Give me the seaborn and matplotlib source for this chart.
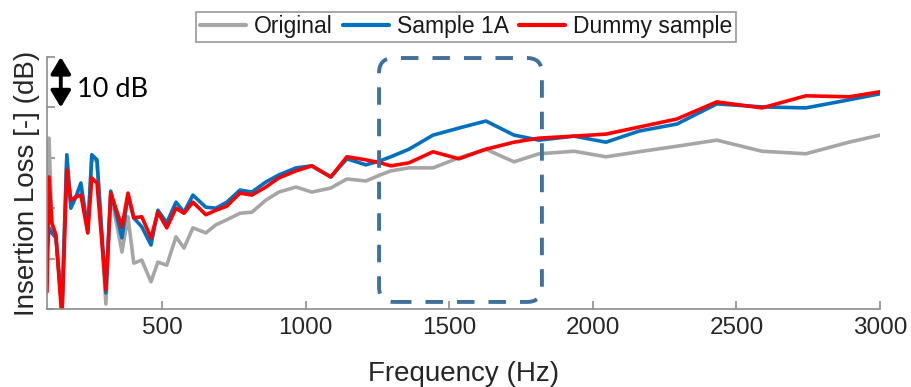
import numpy as np
import pandas as pd
import matplotlib
matplotlib.use("Agg")
import matplotlib.pyplot as plt
import seaborn as sns
from matplotlib.patches import FancyBboxPatch

# ---------------- data ----------------
freq = [100, 107, 117, 131, 152, 169, 183, 200, 218, 242, 256, 274, 305, 322,
        361, 382, 402, 430, 462, 486, 517, 549, 577, 608, 653, 688, 726, 772,
        813, 862, 907, 967, 1022, 1088, 1144, 1210, 1260, 1297, 1360, 1444,
        1534, 1628, 1726, 1813, 1935, 2046, 2161, 2293, 2432, 2589, 2742,
        2892, 3000]

original = [11.7, 33.9, 16.7, 14.7, 0.0, 30.0, 20.6, 22.0, 24.4, 15.1, 30.0,
            29.2, 1.0, 23.0, 11.3, 18.3, 9.1, 9.7, 5.4, 9.3, 8.7, 14.3, 12.1,
            16.1, 15.1, 16.7, 17.7, 19.0, 19.2, 21.6, 23.2, 24.2, 23.2, 24.0,
            25.8, 25.4, 26.6, 27.4, 28.0, 28.0, 30.0, 31.7, 29.2, 30.8, 31.3,
            30.2, 31.2, 32.3, 33.5, 31.3, 30.8, 33.1, 34.5]

sample_1a = [10.7, 16.1, 15.1, 14.1, 0.0, 30.6, 20.0, 22.2, 25.0, 15.7, 30.6,
             29.6, 3.2, 23.4, 14.1, 22.6, 18.1, 16.3, 12.7, 19.6, 17.1, 21.2,
             19.2, 22.6, 20.2, 20.0, 21.2, 23.6, 23.2, 25.2, 26.6, 28.0, 28.4,
             26.2, 29.8, 28.6, 29.4, 30.2, 31.7, 34.5, 35.9, 37.3, 34.5, 33.5,
             34.3, 33.1, 35.3, 36.7, 40.7, 40.1, 39.9, 41.5, 42.7]

dummy_sample = [3.4, 26.2, 17.1, 14.7, -2.0, 27.6, 21.6, 22.2, 22.6, 15.1,
                26.0, 25.0, 3.8, 23.0, 16.3, 23.0, 18.1, 18.3, 14.1, 19.2,
                16.1, 20.0, 19.0, 21.2, 18.7, 19.6, 20.4, 23.0, 22.6, 24.2,
                26.0, 27.4, 28.4, 26.2, 30.2, 29.6, 29.0, 28.4, 29.0, 31.2,
                29.8, 31.7, 33.1, 33.9, 34.3, 34.7, 36.1, 37.7, 41.1, 39.9,
                42.3, 42.1, 43.1]

series_names = ["Original", "Sample 1A", "Dummy sample"]
series_colors = ["#a6a6a6", "#0070c0", "#ff0000"]
xtick_values = [500, 1000, 1500, 2000, 2500, 3000]
ytick_values = [0, 10, 20, 30, 40, 50]

df = pd.DataFrame({"Frequency": freq,
                   "Original": original,
                   "Sample 1A": sample_1a,
                   "Dummy sample": dummy_sample})
long_df = df.melt(id_vars="Frequency", var_name="Series", value_name="IL")

# ---------------- style ----------------
sns.set_style("white")
plt.rcParams["font.family"] = ["Liberation Sans", "DejaVu Sans"]
text_col = "#262626"
axis_col = "#8c8c8c"

W, H = 912, 387
fig = plt.figure(figsize=(W / 100, H / 100), dpi=100)
L, R, T, B = 47, 880, 57, 309
ax = fig.add_axes([L / W, 1 - B / H, (R - L) / W, (B - T) / H])

sns.lineplot(data=long_df, x="Frequency", y="IL", hue="Series",
             hue_order=series_names, palette=series_colors, estimator=None,
             linewidth=2.6, ax=ax)

ax.set_xlim(100, 3000)
ax.set_ylim(0, 50)
ax.set_xticks(xtick_values)
ax.set_xticklabels([str(v) for v in xtick_values])
ax.set_yticks(ytick_values)
ax.set_yticklabels([])

for side in ["top", "right"]:
    ax.spines[side].set_visible(False)
for side in ["left", "bottom"]:
    ax.spines[side].set_color(axis_col)
    ax.spines[side].set_linewidth(1.2)
ax.tick_params(axis="both", direction="in", length=6, width=1.2,
               color=axis_col, labelcolor=text_col, labelsize=17.5, pad=6)
ax.tick_params(axis="y", left=True)
ax.tick_params(axis="x", bottom=True)

ax.set_xlabel("Frequency (Hz)", fontsize=20, color=text_col)
ax.set_ylabel("Insertion Loss [-] (dB)", fontsize=20, color=text_col)
ax.xaxis.set_label_coords(0.5, -(361 - B) / (B - T))
ax.yaxis.set_label_coords(-7 / (R - L), 0.5)

# legend
handles, labels = ax.get_legend_handles_labels()
ax.get_legend().remove()
leg = fig.legend(handles, labels, loc="upper center",
                 bbox_to_anchor=(466 / W, 1 - 12 / H), ncol=3, frameon=True,
                 fancybox=False, edgecolor="#7f7f7f", fontsize=16.5,
                 handlelength=2.0, handletextpad=0.35, columnspacing=0.45,
                 borderpad=0.15, borderaxespad=0)
leg.get_frame().set_linewidth(1.2)
for t in leg.get_texts():
    t.set_color("#1a1a1a")
for h in leg.legend_handles:
    h.set_linewidth(3)

# dashed rounded highlight box
box = FancyBboxPatch((1256, 1.4), 1823 - 1256, 49.8 - 1.4,
                     boxstyle="round,pad=0,rounding_size=52",
                     mutation_aspect=(1 / 5.04) / 3.482,
                     transform=ax.transData, fill=False, ec="#41709c",
                     lw=2.8, ls=(0, (4.5, 3.6)), clip_on=False, zorder=5)
ax.add_patch(box)

# 10 dB scale arrow
ax.annotate("", xy=(148, 50), xytext=(148, 40),
            arrowprops=dict(arrowstyle="<|-|>,head_length=0.5,head_width=0.3",
                            lw=2.8, color="black", shrinkA=0, shrinkB=0,
                            mutation_scale=20),
            annotation_clip=False)
ax.text(204, 43.5, "10 dB", fontsize=19.5, va="center", ha="left",
        color="black", family=["Lato", "DejaVu Sans"])

fig.savefig("out.png", dpi=100)
